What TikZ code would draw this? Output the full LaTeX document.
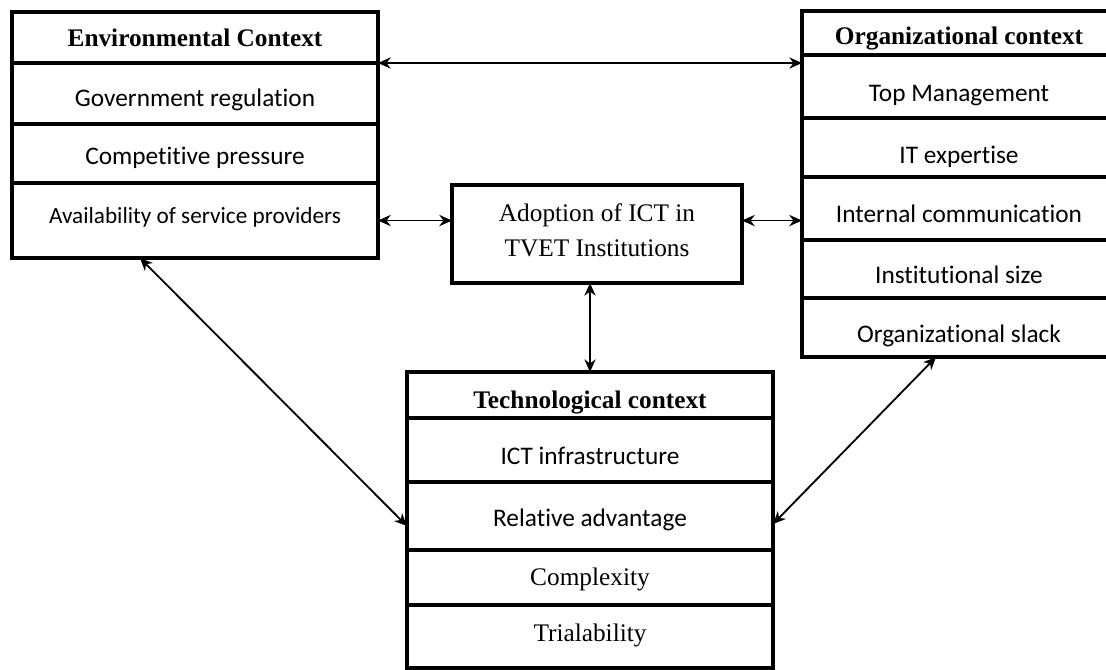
\documentclass[tikz,border=0pt]{standalone}
\usepackage{fontspec}
\setmainfont{Liberation Serif}
\newfontfamily\calibri[Ligatures=NoCommon]{Carlito}
\usetikzlibrary{arrows.meta}
\usetikzlibrary{positioning}
\usepackage{xcolor}
\tikzstyle{doublearrow} = [line width=1.3pt,{Stealth[length=9pt,width=8pt]}-{Stealth[length=9pt,width=8pt]}]
\tikzstyle{row} = [rectangle, draw=black, line width=2.8pt, outer sep=0pt, inner sep=0pt, text centered, font=\fontsize{18}{22}\selectfont\calibri]
\tikzstyle{serifrow} = [row, font=\fontsize{18}{22}\selectfont]
\tikzstyle{headrow} = [row, font=\fontsize{18}{22}\selectfont\bfseries]
\tikzstyle{envbox} = [minimum width=9.15cm]
\tikzstyle{orgbox} = [minimum width=7.85cm]
\tikzstyle{techbox} = [minimum width=9.15cm]
\tikzset{drop/.style={text depth=0pt, text height=#1}}

\begin{document}
\begin{tikzpicture}[x=0.025cm, y=-0.025cm]
      \useasboundingbox (0,0) rectangle (1106,670);

      % environmental context
      \node (envHead) [headrow, envbox, minimum height=1.275cm, drop=13pt] at (195,37.5) {Environmental Context};
      \node (envGov) [row, envbox, minimum height=1.525cm, drop=17.8pt, below=0pt of envHead] {Government regulation};
      \node (envComp) [row, envbox, minimum height=1.475cm, drop=16.3pt, below=0pt of envGov] {Competitive pressure};
      \node (envAvail) [row, envbox, minimum height=1.875cm, drop=3.5pt, below=0pt of envComp, font=\fontsize{16.5}{20}\selectfont\calibri] {Availability of service providers};

      % organizational context
      \node (orgHead) [headrow, orgbox, minimum height=1.1cm, drop=17pt] at (959,33) {Organizational context};
      \node (orgTop) [row, orgbox, minimum height=1.575cm, drop=21.3pt, below=0pt of orgHead] {Top Management};
      \node (orgIT) [row, orgbox, minimum height=1.475cm, drop=22.4pt, below=0pt of orgTop] {IT expertise};
      \node (orgInt) [row, orgbox, minimum height=1.575cm, drop=19.9pt, below=0pt of orgIT] {Internal communication};
      \node (orgSize) [row, orgbox, minimum height=1.45cm, drop=20.3pt, below=0pt of orgInt] {Institutional size};
      \node (orgSlack) [row, orgbox, minimum height=1.475cm, drop=21.3pt, below=0pt of orgSize] {Organizational slack};

      % adoption
      \node (adopt) [serifrow, minimum width=7.25cm, minimum height=2.45cm, align=center, text depth=5.7pt, font=\fontsize{18}{24.4}\selectfont] at (597,234) {Adoption of ICT in\\TVET Institutions};

      % technological context
      \node (techHead) [headrow, techbox, minimum height=1.15cm, drop=18.9pt] at (590,395) {Technological context};
      \node (techInfra) [row, techbox, minimum height=1.6cm, drop=21.3pt, below=0pt of techHead] {ICT infrastructure};
      \node (techRel) [row, techbox, minimum height=1.7cm, drop=14.2pt, below=0pt of techInfra] {Relative advantage};
      \node (techComp) [serifrow, techbox, minimum height=1.375cm, drop=10.7pt, below=0pt of techRel] {Complexity};
      \node (techTrial) [serifrow, techbox, minimum height=1.575cm, drop=7.4pt, below=0pt of techComp] {Trialability};

      \draw [doublearrow] (envHead.south east) -- (envHead.south east -| orgHead.west);
      \draw [doublearrow] (envAvail.east) -- (envAvail.east -| adopt.west);
      \draw [doublearrow] (adopt.east |- envAvail.east) -- (orgInt.west |- envAvail.east);
      \draw [doublearrow] (adopt.south -| techHead.north) -- (techHead.north);
      \draw [doublearrow] ([xshift=3.2cm]envAvail.south west) -- ([yshift=-0.25cm]techRel.west);
      \draw [doublearrow] ([xshift=3.35cm]orgSlack.south west) -- ([yshift=-0.2cm]techRel.east);
    \end{tikzpicture}
\end{document}
